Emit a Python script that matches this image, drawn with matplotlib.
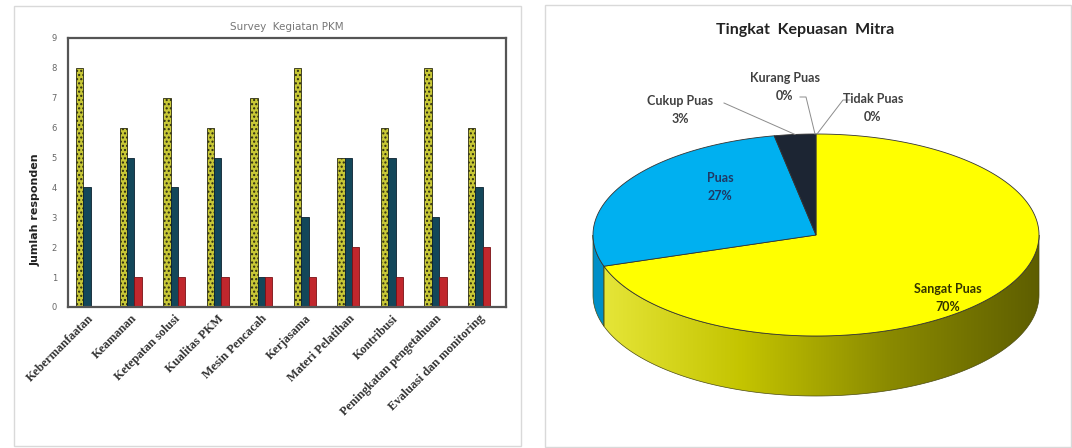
import numpy as np
import matplotlib
matplotlib.use("Agg")
import matplotlib.pyplot as plt
from matplotlib.patches import Rectangle, Polygon
from matplotlib.colors import LinearSegmentedColormap

# ─── DATA ────────────────────────────────────────────────────────────
categories = [
    "Kebermanfaatan", "Keamanan", "Ketepatan solusi", "Kualitas PKM",
    "Mesin Pencacah", "Kerjasama", "Materi Pelatihan", "Kontribusi",
    "Peningkatan pengetahuan", "Evaluasi dan monitoring",
]
series_a = [8, 6, 7, 6, 7, 8, 5, 6, 8, 6]
series_b = [4, 5, 4, 5, 1, 3, 5, 5, 3, 4]
series_c = [0, 1, 1, 1, 1, 1, 2, 1, 1, 2]

pie_labels = ["Sangat Puas", "Puas", "Cukup Puas", "Kurang Puas", "Tidak Puas"]
pie_values = [70, 27, 3, 0, 0]

# ─── FIGURE ──────────────────────────────────────────────────────────
fig = plt.figure(figsize=(10.72, 4.48), dpi=100)
W, H = 1072, 448

# panel frames
frame = fig.add_axes([0, 0, 1, 1], zorder=-5)
frame.set_xlim(0, W)
frame.set_ylim(H, 0)
frame.axis("off")
frame.add_patch(Rectangle((14, 6), 507, 440, fill=False, ec="#d9d9d9", lw=1))
frame.add_patch(Rectangle((545, 5), 526, 442, fill=False, ec="#d9d9d9", lw=1))

# ─── BAR CHART ───────────────────────────────────────────────────────
ax = fig.add_axes([68 / W, 1 - 307 / H, (506 - 68) / W, (307 - 38) / H])
x = np.arange(len(categories))
bw = 0.17
ax.bar(x - bw, series_a, bw, color="#c8c836", edgecolor="#2b2b12",
       hatch="....", lw=0.6)
ax.bar(x, series_b, bw, color="#13475a", edgecolor="#0b2230", lw=0.6)
ax.bar(x + bw, series_c, bw, color="#c1272d", edgecolor="#7a1015", lw=0.6)

ax.set_xlim(-0.44, 9.62)
ax.set_ylim(0, 9)
ax.set_yticks(range(10))
ax.tick_params(axis="y", length=0, labelsize=6, labelcolor="#666666", pad=8)
ax.tick_params(axis="x", length=0, pad=4)
ax.set_xticks(x)
ax.set_xticklabels(categories, rotation=45, ha="right", rotation_mode="anchor",
                   family="Liberation Serif", fontweight="bold", fontsize=8.8,
                   color="#333333")
for s in ax.spines.values():
    s.set_color("#555555")
    s.set_linewidth(1.6)
ax.set_title("Survey  Kegiatan PKM", fontsize=7.5, color="#777777", pad=6)
ax.set_ylabel("Jumlah responden", fontsize=8, fontweight="bold", color="#222222")
ax.yaxis.set_label_coords(-0.062, 0.36)

# ─── 3D PIE ──────────────────────────────────────────────────────────
px = fig.add_axes([540 / W, 0, 532 / W, 1])
px.set_xlim(0, 532)
px.set_ylim(0, H)
px.axis("off")

cx, cy = 276, H - 235
rx, ry = 223, 101
thick = 60
top_cols = ["#ffff00", "#00b0f0", "#1c2533", "#1c2533", "#1c2533"]
side_cmaps = [
    LinearSegmentedColormap.from_list("ys", ["#e8e83c", "#c4c400", "#8a8a00", "#5e5e00"]),
    LinearSegmentedColormap.from_list("bs", ["#0090c8", "#006a96"]),
    LinearSegmentedColormap.from_list("ks", ["#1c2533", "#10151d"]),
]


def ell(t_deg, dy=0.0):
    t = np.radians(t_deg)
    return np.column_stack([cx + rx * np.cos(t), cy + ry * np.sin(t) - dy])


total = float(sum(pie_values))
angles = []
start = 90.0
for v in pie_values:
    span = 360.0 * v / total
    angles.append((start - span, start))
    start -= span

# side walls (front half only)
for i, (t1, t2) in enumerate(angles):
    if t2 - t1 <= 0:
        continue
    for lo, hi in [(-180, 0), (180, 360)]:
        a, b = max(t1, lo), min(t2, hi)
        if b <= a:
            continue
        tt = np.linspace(a, b, 120)
        pts = np.vstack([ell(tt), ell(tt[::-1], thick)])
        poly = Polygon(pts, closed=True, fc="none", ec="#4a4a10", lw=0.5, zorder=2)
        px.add_patch(poly)
        grad = np.linspace(0, 1, 256).reshape(1, -1)
        im = px.imshow(grad, cmap=side_cmaps[min(i, 2)], aspect="auto",
                       extent=[cx - rx, cx + rx, cy - ry - thick, cy],
                       zorder=1, interpolation="bilinear")
        im.set_clip_path(poly)

# top faces
for i, (t1, t2) in enumerate(angles):
    if t2 - t1 <= 0:
        continue
    tt = np.linspace(t1, t2, 200)
    pts = np.vstack([[cx, cy], ell(tt)])
    px.add_patch(Polygon(pts, closed=True, fc=top_cols[i], ec="#333333",
                         lw=0.6, zorder=3))
px.set_xlim(0, 532)
px.set_ylim(0, H)

lab_font = dict(family="Lato", fontweight="bold", fontsize=9,
                ha="center", va="center", zorder=5, linespacing=1.6)
px.text(265, H - 30, "Tingkat  Kepuasan  Mitra", family="Lato",
        fontweight="bold", fontsize=11.5, ha="center", va="center", color="#222222")
px.text(408, H - 298, f"{pie_labels[0]}\n{pie_values[0]}%", color="#333300", **lab_font)
px.text(180, H - 187, f"{pie_labels[1]}\n{pie_values[1]}%", color="#1f3864", **lab_font)
px.text(140, H - 110, f"{pie_labels[2]}\n{pie_values[2]}%", color="#404040", **lab_font)
px.text(245, H - 87, f"{pie_labels[3]}\n{pie_values[3]}%", color="#404040", **lab_font)
px.text(333, H - 108, f"{pie_labels[4]}\n{pie_values[4]}%", color="#404040", **lab_font)

# leader lines to the small slices
mid_c = np.mean(angles[2])
pc = ell(np.array([mid_c]))[0]
px.plot([184, pc[0]], [H - 103, pc[1]], color="#8c8c8c", lw=0.7, zorder=4)
pk = ell(np.array([angles[3][1]]))[0]
px.plot([260, 266, pk[0] - 1], [H - 97, H - 97, pk[1]], color="#8c8c8c", lw=0.7, zorder=4)
px.plot([310, 303, pk[0] + 1], [H - 100, H - 100, pk[1]], color="#8c8c8c", lw=0.7, zorder=4)

fig.savefig("out.png", dpi=100)
